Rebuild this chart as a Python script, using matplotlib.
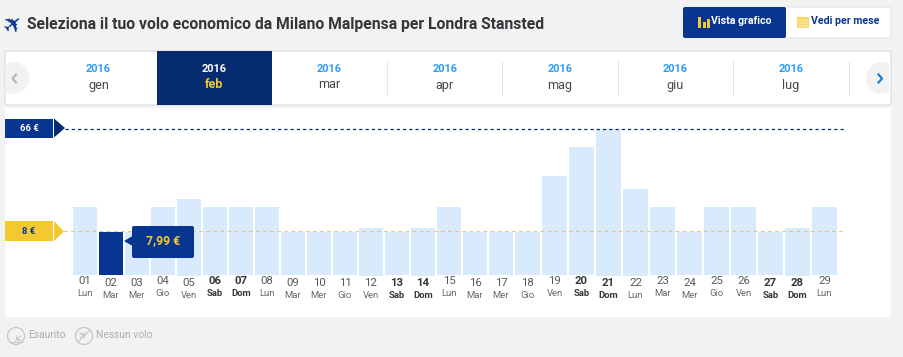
import matplotlib
matplotlib.use("Agg")
import matplotlib.pyplot as plt
from matplotlib.patches import Rectangle, FancyBboxPatch, Polygon, Circle

plt.rcParams['font.family'] = ['Roboto', 'DejaVu Sans']

# dati
days = ["01", "02", "03", "04", "05", "06", "07", "08", "09", "10", "11", "12", "13", "14", "15",
        "16", "17", "18", "19", "20", "21", "22", "23", "24", "25", "26", "27", "28", "29"]
weekdays = ["Lun", "Mar", "Mer", "Gio", "Ven", "Sab", "Dom", "Lun", "Mar", "Mer", "Gio", "Ven", "Sab", "Dom", "Lun",
            "Mar", "Mer", "Gio", "Ven", "Sab", "Dom", "Lun", "Mar", "Mer", "Gio", "Ven", "Sab", "Dom", "Lun"]
prices = [21.99, 7.99, 7.99, 21.99, 26.49, 21.99, 21.99, 21.99, 7.99, 7.99, 7.99, 9.99, 7.99, 9.99, 21.99,
          7.99, 7.99, 7.99, 38.99, 55.49, 65.99, 31.99, 21.99, 7.99, 21.99, 21.99, 7.99, 9.99, 21.99]
months = ["gen", "feb", "mar", "apr", "mag", "giu", "lug"]
max_price = 66
min_price = 8
selected_day = 1

NAVY = "#062b70"
BLUE = "#073590"
YELLOW = "#f2c931"
LIGHT = "#d9eafc"
SKY = "#2f9bf0"
DARK = "#33363b"
GREY = "#a9acb4"
BG = "#f2f2f2"

fig = plt.figure(figsize=(9.04, 3.57), dpi=100, facecolor=BG)

# asse in pixel per la parte di interfaccia (sotto le barre)
ui = fig.add_axes([0, 0, 1, 1], zorder=0)
ui.set_xlim(0, 904)
ui.set_ylim(357, 0)
ui.axis("off")


def box(a, x0, y0, x1, y1, color, edge="none", r=2, z=1):
    a.add_patch(FancyBboxPatch((x0 + r, y0 + r), x1 - x0 - 2 * r, y1 - y0 - 2 * r,
                               boxstyle="round,pad=%s,rounding_size=%s" % (r, r),
                               fc=color, ec=edge, lw=0.8, zorder=z))


# titolo
ui.text(14, 24.5, "✈", fontsize=17, color=BLUE, rotation=40, ha="center", va="center", family="DejaVu Sans")
ui.text(27, 24, "Seleziona il tuo volo economico da Milano Malpensa per Londra Stansted",
        fontsize=11.35, fontweight="bold", color=DARK, va="center")

# bottoni in alto a destra
box(ui, 784, 7, 891, 38, "white", edge="#dfe3e8")
box(ui, 683, 7, 786, 38, BLUE)
ui.add_patch(Rectangle((783, 7), 2, 31, fc=BLUE, ec="none", zorder=2))
for bx, bh in zip([698.5, 703, 707.5], [11, 6, 9]):
    ui.add_patch(Rectangle((bx, 28 - bh), 2.6, bh, fc=YELLOW, ec="none", zorder=3))
ui.text(711, 21.5, "Vista grafico", fontsize=7.6, fontweight="bold", color="white", va="center", zorder=3)
ui.add_patch(Rectangle((797, 16.5), 12.5, 11.5, fc="#f7d558", ec="none", zorder=3))
for gx in [800.5, 803.5, 806.5]:
    ui.plot([gx, gx], [19.5, 28], color="white", lw=0.3, zorder=4)
for gy in [20, 23, 25.5]:
    ui.plot([797, 809.5], [gy, gy], color="white", lw=0.3, zorder=4)
ui.text(811, 21.5, "Vedi per mese", fontsize=7.6, fontweight="bold", color=BLUE, va="center", zorder=3)

# barra dei mesi
box(ui, 5, 51, 891, 105, "white", edge="#d5dbe3", z=1)
ui.add_patch(Rectangle((157, 51), 115, 54, fc=NAVY, ec="none", zorder=2))
for dx in [387, 502, 618, 733, 849]:
    ui.plot([dx, dx], [62, 94], color="#e2e2e2", lw=0.8, zorder=2)
for i, m in enumerate(months):
    cx = 98.5 + 115.4 * i
    sel = m == "feb"
    ui.text(cx, 69.5, "2016", fontsize=7.9, fontweight="bold", color="white" if sel else SKY,
            ha="center", va="center", zorder=3)
    ui.text(cx, 85, m, fontsize=9, fontweight="bold" if sel else "normal", color=YELLOW if sel else "#44474c",
            ha="center", va="center", zorder=3)
left_btn = Circle((13, 78), 16, fc=BG, ec="none", zorder=2)
ui.add_patch(left_btn)
left_btn.set_clip_path(Rectangle((5.5, 51), 40, 54, transform=ui.transData))
right_btn = Circle((882, 78), 16, fc=BG, ec="none", zorder=2)
ui.add_patch(right_btn)
right_btn.set_clip_path(Rectangle((850, 51), 39.5, 54, transform=ui.transData))
ui.plot([16, 12.5, 16], [74.5, 78.5, 82.5], color="#b5b9c0", lw=1.6, zorder=3)
ui.plot([878.5, 882, 878.5], [74.5, 78.5, 82.5], color="#1c7fd6", lw=1.6, zorder=3)

# pannello del grafico
ui.add_patch(Rectangle((5, 108), 886, 208.5, fc="white", ec="none", zorder=1))

# asse del grafico: x in pixel, y in euro
px_per_euro = (231.5 - 128.5) / (max_price - min_price)


def euro(py):
    return min_price + (231.5 - py) / px_per_euro


ax = fig.add_axes([0, 0, 1, 1], facecolor="none", zorder=1)
ax.set_xlim(0, 904)
ax.set_ylim(euro(357), euro(0))
ax.axis("off")

floor = euro(275)
lefts = [73 + 26 * i if i < 18 else 542 + 27 * (i - 18) for i in range(len(days))]
widths = [24 if i < 17 else 25 for i in range(len(days))]
shift_down = {1, 2, 4, 8, 9, 10, 11, 12, 13, 15, 16, 17, 20, 21, 23, 26, 27}
taller = {4, 11, 13, 20, 21, 27}

for i, p in enumerate(prices):
    base = euro(276) if i in taller else floor
    ax.bar(lefts[i], p - base, bottom=base, width=widths[i], align="edge",
           color=BLUE if i == selected_day else LIGHT, zorder=2)
    cx = lefts[i] + widths[i] / 2
    dy = 1 if i in shift_down else 0
    weekend = weekdays[i] in ("Sab", "Dom")
    ui.text(cx, 281.5 + dy, days[i], fontsize=8.2, fontweight="bold" if weekend else "normal",
            color=DARK if weekend else "#55585d", ha="center", va="center", zorder=5)
    ui.text(cx, 294 + dy, weekdays[i], fontsize=6.8, fontweight="bold" if weekend else "normal",
            color=DARK if weekend else "#66696e", ha="center", va="center", zorder=5)

ax.plot([65, 845], [max_price, max_price], color=NAVY, lw=0.9, dashes=(2.6, 2.4), zorder=3)
ax.plot([64, 845], [min_price, min_price], color="#e6c65a", lw=0.8, alpha=0.85, dashes=(3.4, 3), zorder=3, snap=False)

# bandierine dei prezzi
ax.add_patch(Rectangle((5, euro(137.5)), 48, euro(118.5) - euro(137.5), fc=BLUE, ec="none", zorder=4))
ax.add_patch(Polygon([(54, euro(118.5)), (54, euro(137.5)), (65, euro(128))], fc=NAVY, ec="none", zorder=4))
ax.text(29, max_price, "%d €" % max_price, fontsize=6.8, fontweight="bold", color="white",
        ha="center", va="center", zorder=5)
ax.add_patch(Rectangle((5, euro(241)), 48, euro(221) - euro(241), fc=YELLOW, ec="none", zorder=4))
ax.add_patch(Polygon([(54, euro(221)), (54, euro(241)), (64, euro(231.5))], fc=YELLOW, ec="none", zorder=4))
ax.text(29, min_price, "%d €" % min_price, fontsize=6.8, fontweight="bold", color=BLUE,
        ha="center", va="center", zorder=5)

# tooltip del giorno selezionato, sopra le barre
top = fig.add_axes([0, 0, 1, 1], facecolor="none", zorder=2)
top.set_xlim(0, 904)
top.set_ylim(357, 0)
top.axis("off")
box(top, 132, 226, 194, 258, BLUE, r=2, z=6)
top.add_patch(Polygon([(132.5, 236), (132.5, 246), (124, 241)], fc=BLUE, ec="none", zorder=6))
top.text(163, 241, ("%.2f €" % prices[selected_day]).replace(".", ","), fontsize=8.8, fontweight="bold", color=YELLOW,
         ha="center", va="center", zorder=7)

# legenda
for cx, label in zip([16, 84], ["Esaurito", "Nessun volo"]):
    ui.add_patch(Circle((cx, 336), 8.5, fc="none", ec="#c4c6cb", lw=0.9, zorder=3))
    ui.text(cx, 336, "✈", fontsize=8, color="#c4c6cb", rotation=45 if cx > 20 else -135, ha="center", va="center",
            family="DejaVu Sans", zorder=3)
    ui.plot([cx - 6, cx + 6], [342, 330] if cx > 20 else [342, 342], color="#c4c6cb", lw=0.8, zorder=3)
    ui.text(cx + 12, 335.5, label, fontsize=7.4, color=GREY, va="center", zorder=3)

fig.savefig("out.png", dpi=100, facecolor=BG)
